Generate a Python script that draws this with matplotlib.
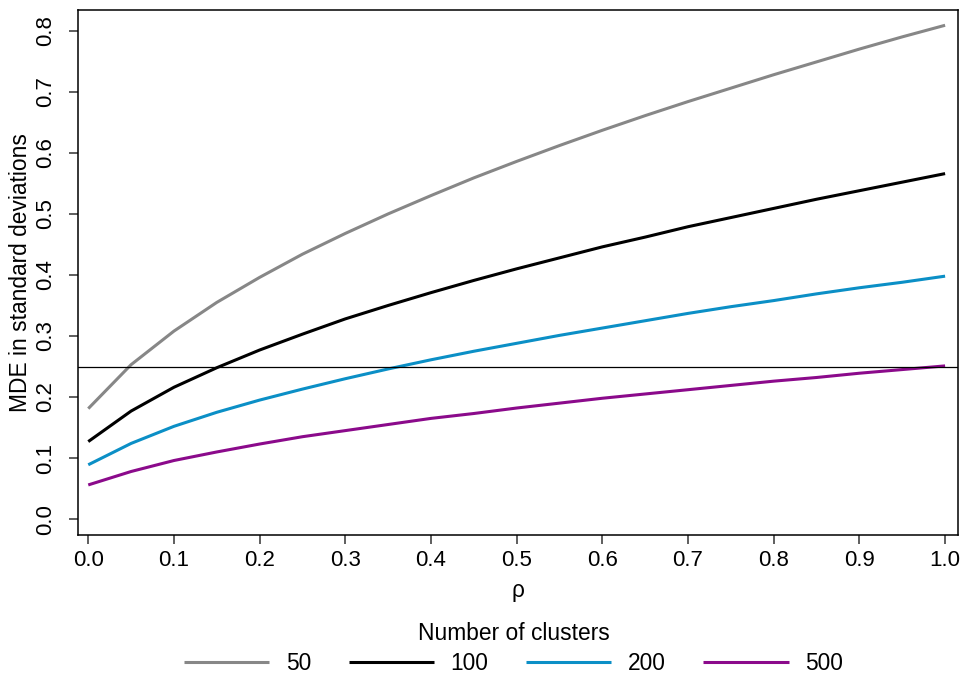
import matplotlib
matplotlib.use("Agg")
import matplotlib.pyplot as plt

# intra-cluster correlation grid
rho = [0.00, 0.05, 0.10, 0.15, 0.20, 0.25, 0.30, 0.35, 0.40, 0.45, 0.50,
       0.55, 0.60, 0.65, 0.70, 0.75, 0.80, 0.85, 0.90, 0.95, 1.00]

# minimum detectable effect (SD units) by number of clusters
mde_50 = [0.181, 0.253, 0.308, 0.355, 0.396, 0.434, 0.468, 0.500, 0.530, 0.559, 0.586,
          0.612, 0.637, 0.661, 0.684, 0.706, 0.728, 0.749, 0.770, 0.790, 0.809]
mde_100 = [0.127, 0.177, 0.216, 0.248, 0.277, 0.303, 0.328, 0.350, 0.371, 0.391, 0.410,
           0.428, 0.446, 0.462, 0.479, 0.494, 0.509, 0.524, 0.538, 0.552, 0.566]
mde_200 = [0.089, 0.124, 0.152, 0.175, 0.195, 0.213, 0.230, 0.246, 0.261, 0.275, 0.288,
           0.301, 0.313, 0.325, 0.337, 0.348, 0.358, 0.369, 0.379, 0.388, 0.398]
mde_500 = [0.056, 0.078, 0.096, 0.110, 0.123, 0.135, 0.145, 0.155, 0.165, 0.173, 0.182,
           0.190, 0.198, 0.205, 0.212, 0.219, 0.226, 0.232, 0.239, 0.245, 0.251]

cluster_labels = ["50", "100", "200", "500"]
colors = ["#878787", "#000000", "#0b8fc6", "#8b0a8b"]
target = 0.25

xticks = [0.0, 0.1, 0.2, 0.3, 0.4, 0.5, 0.6, 0.7, 0.8, 0.9, 1.0]
yticks = [0.0, 0.1, 0.2, 0.3, 0.4, 0.5, 0.6, 0.7, 0.8]

plt.rcParams["font.family"] = ["Liberation Sans", "DejaVu Sans"]
fs = 16
fs_lab = 16.4

fig = plt.figure(figsize=(9.65, 6.76), dpi=100)
ax = fig.add_axes([0.0808, 0.2086, 0.9119, 0.7766])

for ys, c, lab in zip([mde_50, mde_100, mde_200, mde_500], colors, cluster_labels):
    ax.plot(rho, ys, color=c, lw=2.2, label=lab, solid_capstyle="butt")
ax.axhline(target, color="black", lw=0.9)

ax.set_xlim(-0.012, 1.015)
ax.set_ylim(-0.026, 0.834)
ax.set_xticks(xticks)
ax.set_xticklabels([f"{v:.1f}" for v in xticks], fontsize=fs)
ax.set_yticks(yticks)
ax.set_yticklabels([f"{v:.1f}" for v in yticks], fontsize=fs, rotation=90, va="center")
ax.tick_params(axis="both", direction="out", length=6.5, width=1.1, color="#333333")
ax.tick_params(axis="x", pad=4)
ax.tick_params(axis="y", pad=9)
for s in ax.spines.values():
    s.set_linewidth(1.1)

ax.set_xlabel("ρ", fontsize=fs_lab, labelpad=6)
ax.set_ylabel("MDE in standard deviations", fontsize=fs_lab)
ax.yaxis.set_label_coords(-0.052, 0.5)

fig.legend(loc="lower center", bbox_to_anchor=(0.532, -0.018), ncol=4, frameon=False,
           title="Number of clusters", title_fontsize=fs_lab, fontsize=fs_lab,
           handlelength=3.75, handletextpad=0.72, columnspacing=1.65,
           labelspacing=0.3, borderaxespad=0.2)

fig.savefig("out.png", dpi=100)
